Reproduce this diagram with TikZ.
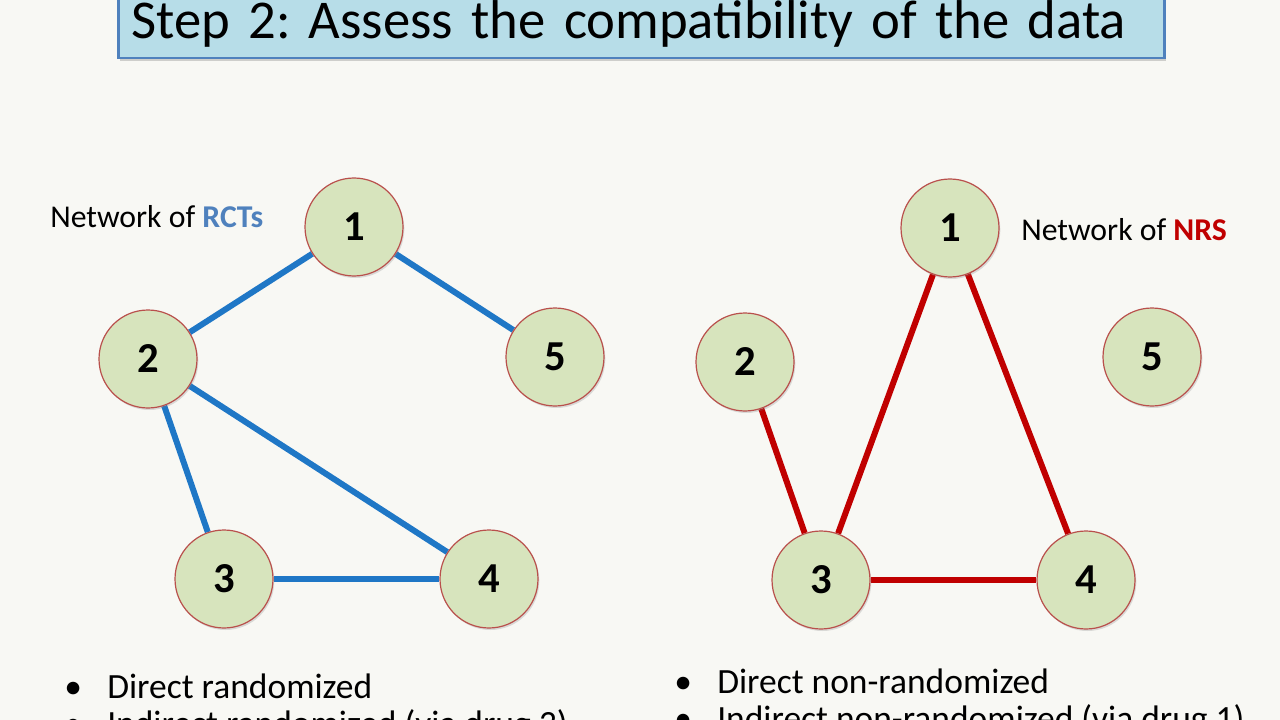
\documentclass[tikz,border=0pt]{standalone}
\usepackage{fontspec}
\setmainfont{Carlito}
\usetikzlibrary{shadows,backgrounds}
\definecolor{slidebg}{HTML}{F8F8F4}
\definecolor{titlefill}{HTML}{B7DDE8}
\definecolor{titleline}{HTML}{4F81BD}
\definecolor{drugfill}{HTML}{D7E4BD}
\definecolor{drugline}{HTML}{B9504C}
\definecolor{rctblue}{HTML}{1F77C6}
\definecolor{rctlabel}{HTML}{4F81BD}
\definecolor{nrsred}{HTML}{C00000}
\newcommand{\bitem}{\makebox[32.25pt][l]{\textbullet}}
\frenchspacing
\begin{document}
\begin{tikzpicture}[x=0.75pt,y=-0.75pt,
  drug/.style={circle,draw=drugline,line width=0.9pt,fill=drugfill,minimum size=73.5pt,inner sep=0pt,
    font=\fontsize{32}{32}\selectfont\bfseries,drop shadow={shadow xshift=1pt,shadow yshift=-1.5pt,opacity=0.25}},
  rct/.style={rctblue,line width=4.5pt},
  nrs/.style={nrsred,line width=4.5pt},
  netlabel/.style={anchor=base west,inner sep=0pt,font=\fontsize{23.8}{24}\selectfont},
  bullets/.style={anchor=base west,align=left,inner sep=0pt,font=\fontsize{26.6}{27.75}\selectfont},
  titlebox/.style={draw=titleline,line width=2.2pt,fill=titlefill,anchor=base west,text width=765pt,align=left,
    inner xsep=9.75pt,inner ysep=0pt,text height=58.5pt,text depth=14.25pt,font=\fontsize{41}{41}\selectfont,
    drop shadow={shadow xshift=1.5pt,shadow yshift=-2.5pt,opacity=0.35}}]
\useasboundingbox (0,0) rectangle (1280,720);
\begin{scope}[on background layer]
\fill[slidebg] (0,0) rectangle (1280,720);
\end{scope}
\node[titlebox] (title) at (117,39) {\mbox{Step 2: Assess the compatibility of the data}};
% network of RCTs
\node[drug] (r1) at (354,227) {1};
\node[drug] (r2) at (148,359) {2};
\node[drug] (r3) at (224,579) {3};
\node[drug] (r4) at (489,579) {4};
\node[drug] (r5) at (555,357) {5};
\node[netlabel] (rctlab) at (50,228) {Network of \textbf{\color{rctlabel}RCTs}};
% network of NRS
\node[drug] (n1) at (950,228) {1};
\node[drug] (n2) at (745,362) {2};
\node[drug] (n3) at (821,580) {3};
\node[drug] (n4) at (1086,580) {4};
\node[drug] (n5) at (1152,357) {5};
\node[netlabel] (nrslab) at (1021,241) {Network of \textbf{\color{nrsred}NRS}};
\begin{scope}[on background layer]
\draw[rct] (r1)--(r2);
\draw[rct] (r1)--(r5);
\draw[rct] (r2)--(r3);
\draw[rct] (r2)--(r4);
\draw[rct] (r3)--(r4);
\draw[nrs] (n1)--(n3);
\draw[nrs] (n1)--(n4);
\draw[nrs] (n2)--(n3);
\draw[nrs] (n3)--(n4);
\end{scope}
% bullet lists
\node[bullets] (rctlist) at (64,735) {\bitem Direct randomized\\ \bitem Indirect randomized (via drug 3)};
\node[bullets] (nrslist) at (674,730) {\bitem Direct non-randomized\\ \bitem Indirect non-randomized (via drug 1)};
\end{tikzpicture}
\end{document}
